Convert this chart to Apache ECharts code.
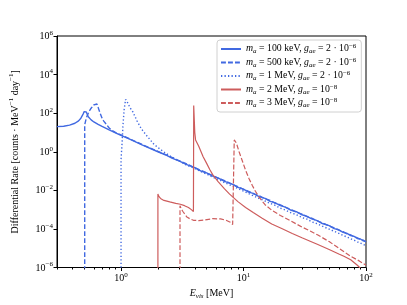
<!DOCTYPE html>
<html>
<head>
<meta charset="utf-8">
<script src="https://cdn.jsdelivr.net/npm/echarts@6/dist/echarts.min.js"></script>
<style>html,body{margin:0;padding:0;background:#fff}#c{width:407px;height:305px}</style>
</head>
<body>
<div id="c"></div>
<script>
// ---- data ----
const x100 = [0.3,0.34,0.38,0.42,0.45,0.47,0.49,0.5,0.51,0.52,0.54,0.57,0.6,0.65,0.7,0.8,0.9,1.0,1.2,1.5,2,2.3,2.6,3,3.4,4,4.5,5,5.6,6.3,7,8,9,10,11,12,13.5,15,16.5,18,20,22,24.5,27,30,33,36,40,44,50,55,60,65,70,75,80,85,90,95,100];
const y100 = [20,21,24,30,40,55,90,120,130,115,65,45,35,26,20.5,13.5,9.6,7.0,4.2,2.2,1.0,0.70,0.47,0.33,0.22,0.15,0.100,0.080,0.054,0.042,0.029,0.0215,0.0143,0.0115,0.0081,0.0069,0.0046,0.0038,0.0027,0.0023,0.0016,0.00135,9.2e-4,7.8e-4,5.4e-4,4.5e-4,3.3e-4,2.7e-4,1.9e-4,1.47e-4,1.04e-4,9.0e-5,6.6e-5,5.9e-5,4.5e-5,4.1e-5,3.2e-5,3.0e-5,2.4e-5,2.2e-5];

const x500 = [0.505,0.505,0.52,0.545,0.57,0.6,0.62,0.635,0.65,0.675,0.7,0.72,0.76,0.8,0.84,0.9,1.0,1.2,1.5,2,2.3,2.6,3,3.4,4,4.5,5,5.6,6.3,7,8,9,10,11,12,13.5,15,16.5,18,20,22,24.5,27,30,33,36,40,44,50,55,60,65,70,75,80,85,90,95,100];
const y500 = [1e-8,25,55,115,180,270,330,300,200,100,55,40,26,17,13,10,7.4,4.4,2.3,1.05,0.71,0.51,0.335,0.24,0.148,0.108,0.079,0.059,0.041,0.032,0.021,0.0157,0.0113,0.0089,0.0068,0.0051,0.0037,0.0030,0.0022,0.00175,0.0013,0.00101,7.5e-4,5.9e-4,4.3e-4,3.6e-4,2.6e-4,2.07e-4,1.42e-4,1.13e-4,8.6e-5,7.2e-5,5.6e-5,4.9e-5,3.9e-5,3.45e-5,2.9e-5,2.6e-5,2.1e-5];

const x1M = [1.0,1.0,1.02,1.035,1.06,1.09,1.12,1.18,1.25,1.35,1.46,1.6,1.86,2.2,2.6,3.05,3.4,4,4.5,5,5.6,6.3,7,8,9,10,11,12,13.5,15,16.5,18,20,22,24.5,27,30,33,36,40,44,50,55,60,65,70,75,80,85,90,95,100];
const y1M = [1e-8,0.4,3,20,150,520,400,200,115,40,16,7.5,2.4,1.05,0.52,0.31,0.21,0.135,0.093,0.07,0.048,0.036,0.025,0.0175,0.0125,0.0092,0.0068,0.0053,0.0037,0.0028,0.0021,0.0017,0.00118,9.5e-4,6.8e-4,5.5e-4,3.9e-4,3.2e-4,2.35e-4,1.85e-4,1.38e-4,9.8e-5,7.5e-5,5.9e-5,4.6e-5,3.8e-5,3.1e-5,2.6e-5,2.15e-5,1.85e-5,1.55e-5,1.35e-5];

const x2M = [2.0,2.0,2.03,2.1,2.24,2.5,2.8,3.05,3.3,3.55,3.75,3.85,3.9,3.92,4.0,4.06,4.14,4.3,4.5,4.68,5.0,5.3,5.6,6.2,7.0,7.7,9,10.4,12,14.2,17,20.5,25,30,35,40,50,60,66,75,85,92,100];
const y2M = [1e-8,0.0064,0.005,0.0038,0.003,0.0025,0.0021,0.0019,0.0016,0.0013,0.001,8.5e-4,8e-4,250,10,4.1,3.4,2.0,1.0,0.55,0.25,0.12,0.065,0.028,0.012,0.0064,0.0026,0.0013,7e-4,3.6e-4,1.8e-4,1.05e-4,5.8e-5,3.5e-5,2.3e-5,1.6e-5,8.5e-6,5e-6,3.8e-6,2.5e-6,1.3e-6,8e-7,4e-7];

const x3M = [3.03,3.03,3.1,3.2,3.45,3.7,3.9,4.3,4.8,5.6,6.5,7.2,7.8,8.15,8.35,8.4,8.55,8.75,9.2,9.8,10.4,11.1,11.8,12.5,13.4,15,17.1,20,24,30,35,40.5,50,60,75,88,100];
const y3M = [1e-8,0.0016,0.0011,8e-4,4.1e-4,3.2e-4,2.8e-4,2.7e-4,2.9e-4,3.4e-4,3.3e-4,2.8e-4,2.2e-4,1.7e-4,1.6e-4,4.1,4.0,2.8,1.0,0.32,0.11,0.04,0.018,0.009,0.0044,0.0018,9e-4,5.0e-4,2.7e-4,1.25e-4,7.8e-5,4.8e-5,2.2e-5,1.0e-5,3.8e-6,2.2e-6,1.3e-6];

const seriesNames = ['ma100keV','ma500keV','ma1MeV','ma2MeV','ma3MeV'];
const legendLabels = {
  ma100keV: '{i|m}{sub|a}{n| = 100 keV, }{i|g}{sub|ae}{n| = 2 · 10}{sup|−6}',
  ma500keV: '{i|m}{sub|a}{n| = 500 keV, }{i|g}{sub|ae}{n| = 2 · 10}{sup|−6}',
  ma1MeV:   '{i|m}{sub|a}{n| = 1 MeV, }{i|g}{sub|ae}{n| = 2 · 10}{sup|−6}',
  ma2MeV:   '{i|m}{sub|a}{n| = 2 MeV, }{i|g}{sub|ae}{n| = 10}{sup|−8}',
  ma3MeV:   '{i|m}{sub|a}{n| = 3 MeV, }{i|g}{sub|ae}{n| = 10}{sup|−8}'
};
const xMajorTicks = [1, 10, 100];
const xMinorTicks = [0.3,0.4,0.5,0.6,0.7,0.8,0.9,2,3,4,5,6,7,8,9,20,30,40,50,60,70,80,90];

const BLUE = '#4169e1', RED = '#cd5c5c';
const FONT = 'Liberation Serif';

function pairs(xs, ys) { return xs.map((x, i) => [x, ys[i]]); }
function powLabel(v) {
  const l = Math.log10(v), e = Math.round(l);
  if (Math.abs(l - e) > 1e-6) return '';
  return '{b|10}{sup|' + (e < 0 ? '−' + (-e) : e) + '}';
}
const tickRich = {
  b: { fontFamily: FONT, fontSize: 10, color: '#000', verticalAlign: 'bottom', padding: [0,0,1,0] },
  sup: { fontFamily: FONT, fontSize: 7, color: '#000', verticalAlign: 'bottom', padding: [0,0,6,0] }
};
const legRich = {
  i: { fontFamily: FONT, fontStyle: 'italic', fontSize: 9.8, color: '#000', verticalAlign: 'bottom', padding: [0,0,1.5,0] },
  n: { fontFamily: FONT, fontSize: 9.8, color: '#000', verticalAlign: 'bottom', padding: [0,0,1.5,0] },
  sub: { fontFamily: FONT, fontStyle: 'italic', fontSize: 7, color: '#000', verticalAlign: 'bottom', padding: [0,0,0,0] },
  sup: { fontFamily: FONT, fontSize: 7, color: '#000', verticalAlign: 'bottom', padding: [0,0,5,0] }
};

function mk(name, xs, ys, color, type, width) {
  return {
    name: name, type: 'line', data: pairs(xs, ys), xAxisIndex: 0, yAxisIndex: 0,
    symbol: 'none', showSymbol: false, clip: true, animation: false,
    lineStyle: { color: color, width: width, type: type },
    itemStyle: { color: color, opacity: 0 }
  };
}

const chart = echarts.init(document.getElementById('c'), null, { renderer: 'canvas' });
chart.setOption({
  animation: false,
  backgroundColor: '#fff',
  grid: { left: 51, right: 41, top: 36, bottom: 34, show: true, borderColor: '#000', borderWidth: 1, backgroundColor: 'transparent' },
  legend: {
    data: seriesNames,
    orient: 'vertical', left: 217, top: 40,
    itemWidth: 20, itemHeight: 8, itemGap: 1.5,
    padding: [3, 5, 3, 3],
    borderColor: '#d0d0d0', borderWidth: 1, borderRadius: 3, backgroundColor: 'rgba(255,255,255,0.85)',
    itemStyle: { opacity: 0 },
    formatter: n => legendLabels[n],
    textStyle: { rich: legRich }
  },
  xAxis: [{
    type: 'log', logBase: 10, min: 0.3, max: 100,
    name: '{i|E}{sub|vis}{n| [MeV]}', nameLocation: 'middle', nameGap: 21,
    nameTextStyle: { rich: {
      i: { fontFamily: FONT, fontStyle: 'italic', fontSize: 10, color: '#000', verticalAlign: 'bottom', padding: [0,0,1.5,0] },
      n: { fontFamily: FONT, fontSize: 10, color: '#000', verticalAlign: 'bottom', padding: [0,0,1.5,0] },
      sub: { fontFamily: FONT, fontStyle: 'italic', fontSize: 7, color: '#000', verticalAlign: 'bottom' }
    } },
    axisLine: { lineStyle: { color: '#000', width: 1 } },
    axisTick: { show: true, length: 3.5, lineStyle: { color: '#000' }, customValues: xMajorTicks },
    axisLabel: { formatter: powLabel, rich: tickRich, margin: 4, customValues: xMajorTicks },
    splitLine: { show: false }, minorTick: { show: false }
  }, {
    type: 'log', logBase: 10, min: 0.3, max: 100, position: 'bottom', gridIndex: 0,
    axisLine: { show: false },
    axisTick: { show: true, length: 2, lineStyle: { color: '#000' }, customValues: xMinorTicks },
    axisLabel: { show: false }, splitLine: { show: false }
  }],
  yAxis: {
    type: 'log', logBase: 10, min: 1e-6, max: 1e6, interval: 2,
    name: '{n|Differential Rate [counts · MeV}{sup|−1}{n| day}{sup|−1}{n|]}', nameLocation: 'middle', nameGap: 36,
    nameTextStyle: { rich: {
      n: { fontFamily: FONT, fontSize: 10, color: '#000', verticalAlign: 'bottom', padding: [0,0,1,0] },
      sup: { fontFamily: FONT, fontSize: 7, color: '#000', verticalAlign: 'bottom', padding: [0,0,6,0] }
    } },
    axisLine: { lineStyle: { color: '#000', width: 1 } },
    axisTick: { show: true, length: 3.5, lineStyle: { color: '#000' } },
    axisLabel: { formatter: powLabel, rich: tickRich, margin: 4 },
    splitLine: { show: false }
  },
  series: [
    mk('ma100keV', x100, y100, BLUE, 'solid', 1.4),
    mk('ma500keV', x500, y500, BLUE, [4.9, 2.1], 1.4),
    mk('ma1MeV', x1M, y1M, BLUE, [1.3, 2.2], 1.4),
    mk('ma2MeV', x2M, y2M, RED, 'solid', 1.2),
    mk('ma3MeV', x3M, y3M, RED, [4.9, 2.1], 1.2)
  ]
});
</script>
</body>
</html>
